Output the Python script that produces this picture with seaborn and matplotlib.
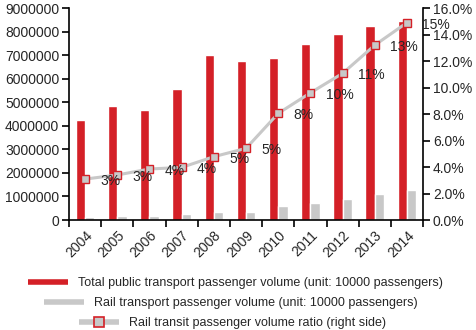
import pandas as pd
import seaborn as sns
import matplotlib.pyplot as plt
from matplotlib.lines import Line2D
import matplotlib.ticker as mticker

years = ['2004', '2005', '2006', '2007', '2008', '2009', '2010', '2011', '2012', '2013', '2014']
totalVolume = [4250000, 4830000, 4650000, 5570000, 7020000, 6770000, 6860000, 7470000, 7900000, 8250000, 8470000]
railVolume = [140000, 190000, 190000, 250000, 340000, 340000, 580000, 720000, 880000, 1090000, 1260000]
railRatio = [3.09, 3.40, 3.85, 3.97, 4.78, 5.41, 8.05, 9.60, 11.07, 13.20, 14.90]
ratioLabels = ['3%', '3%', '4%', '4%', '5%', '5%', '8%', '10%', '11%', '13%', '15%']

totalName = 'Total public transport passenger volume (unit: 10000 passengers)'
railName = 'Rail transport passenger volume (unit: 10000 passengers)'
ratioName = 'Rail transit passenger volume ratio (right side)'

red = '#d42027'
grey = '#c8c8c8'

df = pd.DataFrame({'year': years * 2,
                   'volume': totalVolume + railVolume,
                   'series': [totalName] * len(years) + [railName] * len(years)})

sns.set_style('ticks')
plt.rcParams['font.family'] = ['Liberation Sans', 'DejaVu Sans']
plt.rcParams['font.size'] = 10

fig = plt.figure(figsize=(4.77, 3.3), dpi=100)
ax = fig.add_axes([0.1447, 0.3333, 0.7423, 0.6424])

sns.barplot(data=df, x='year', y='volume', hue='series', palette=[red, grey],
            width=0.58, gap=0, saturation=1, ax=ax, legend=False)
ax.set_ylim(0, 9000000)
ax.set_xlim(-0.5, len(years) - 0.5)
ax.yaxis.set_major_locator(mticker.MultipleLocator(1000000))
ax.yaxis.set_major_formatter(mticker.FuncFormatter(lambda v, p: '%d' % v))
ax.set_xlabel('')
ax.set_ylabel('')
ax.tick_params(axis='x', length=0, pad=6)
ax.set_xticks([i - 0.5 for i in range(len(years) + 1)], minor=True)
ax.tick_params(axis='x', which='minor', length=5, width=1.2, color='black')
ax.tick_params(axis='y', length=5, width=1.2, color='black', pad=2)
for s in ['left', 'bottom']:
    ax.spines[s].set_color('black')
    ax.spines[s].set_linewidth(1.2)
ax.spines['top'].set_visible(False)
ax.spines['right'].set_visible(False)

ax2 = ax.twinx()
sns.pointplot(x=years, y=railRatio, color=grey, markers='s', linewidth=2.2,
              markersize=6, markeredgecolor=red, markeredgewidth=1.0,
              markerfacecolor=grey, ax=ax2)
ax2.set_xlim(-0.5, len(years) - 0.5)
ax2.set_ylim(0, 16)
ax2.yaxis.set_major_locator(mticker.MultipleLocator(2))
ax2.yaxis.set_major_formatter(mticker.FuncFormatter(lambda v, p: '%.1f%%' % v))
ax2.tick_params(axis='y', length=5, width=1.2, color='black', pad=2)
ax2.spines['right'].set_visible(True)
ax2.spines['right'].set_color('black')
ax2.spines['right'].set_linewidth(1.2)
for s in ['left', 'top', 'bottom']:
    ax2.spines[s].set_visible(False)
ax.set_xticks(range(len(years)))
ax.set_xticklabels(years, rotation=45, ha='right', rotation_mode='anchor')

for i, lab in enumerate(ratioLabels):
    ax2.annotate(lab, (i, railRatio[i]), xytext=(11, -1.5), textcoords='offset points',
                 ha='left', va='center', fontsize=10)

handles = [Line2D([], [], color=red, lw=4, solid_capstyle='butt'),
           Line2D([], [], color=grey, lw=4, solid_capstyle='butt'),
           Line2D([], [], color=grey, lw=4, solid_capstyle='butt', marker='s', markersize=6.5,
                  markerfacecolor=grey, markeredgecolor=red, markeredgewidth=1.2)]
names = [totalName, railName, ratioName]
ys = [283, 303, 323]
xs = [235, 231, 233]
for h, n, x, y in zip(handles, names, xs, ys):
    fig.legend([h], [n], loc='center', bbox_to_anchor=(x / 477, 1 - y / 330),
               frameon=False, fontsize=9, handlelength=3.2, handletextpad=0.8,
               borderpad=0, borderaxespad=0)

fig.savefig('out.png', dpi=100)
